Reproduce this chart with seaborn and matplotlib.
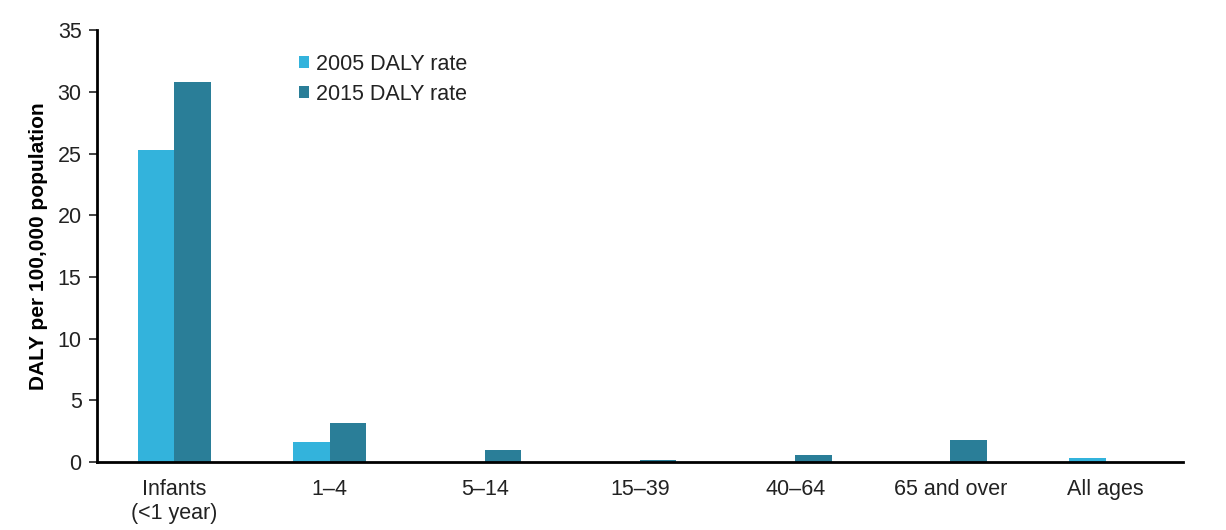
import matplotlib
matplotlib.use("Agg")
import matplotlib.pyplot as plt
import seaborn as sns
import pandas as pd

categories = ["Infants\n(<1 year)", "1\u20134", "5\u201314", "15\u201339", "40\u201364", "65 and over", "All ages"]
rate_2005 = [25.3, 1.6, 0.0, 0.0, 0.0, 0.0, 0.35]
rate_2015 = [30.8, 3.2, 1.0, 0.15, 0.55, 1.8, 0.0]
series = ["2005 DALY rate", "2015 DALY rate"]
colors = ["#33B3DC", "#2A7E98"]

df = pd.DataFrame({
    "Age": categories * 2,
    "Rate": rate_2005 + rate_2015,
    "Series": [series[0]] * len(categories) + [series[1]] * len(categories),
})

sns.set_style("white")
plt.rcParams["font.family"] = ["Liberation Sans", "DejaVu Sans"]

fig = plt.figure(figsize=(12.26, 5.30), dpi=100)
ax = fig.add_axes([0.079, 0.128, 0.886, 0.815])

sns.barplot(data=df, x="Age", y="Rate", hue="Series", palette=colors,
            width=0.47, ax=ax, saturation=1, linewidth=0)

ax.set_ylim(0, 35)
ax.set_yticks(range(0, 36, 5))
ax.set_xlim(-0.5, len(categories) - 0.5)
ax.set_xlabel("")
ax.set_ylabel("DALY per 100,000 population", fontsize=15, fontweight="bold",
              color="black", labelpad=7)
ax.tick_params(axis="y", labelsize=15.5, colors="#222222", length=6, width=1.2,
               direction="out", left=True, pad=5)
ax.tick_params(axis="x", labelsize=15.5, colors="#222222", length=0, pad=12)
for s in ["top", "right"]:
    ax.spines[s].set_visible(False)
for s in ["left", "bottom"]:
    ax.spines[s].set_color("black")
    ax.spines[s].set_linewidth(2)

leg = ax.legend(loc="upper left", bbox_to_anchor=(0.168, 0.99), frameon=False,
                fontsize=15.5, handlelength=0.5, handleheight=0.5, handletextpad=0.3,
                labelspacing=0.42)
for t in leg.get_texts():
    t.set_color("#222222")

fig.savefig("out.png", dpi=100)
